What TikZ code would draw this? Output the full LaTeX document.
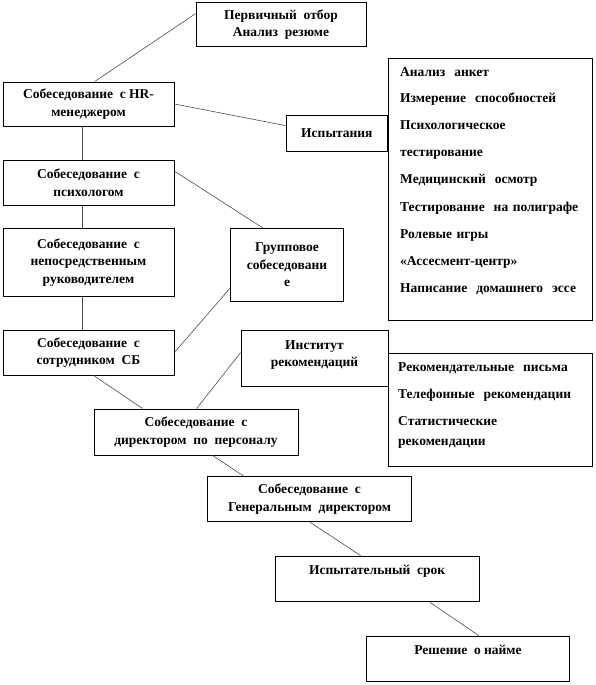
\documentclass[tikz,border=0pt]{standalone}
\usepackage{fontspec}
\setmainfont{Liberation Serif}
\usetikzlibrary{calc}
\begin{document}
\begin{tikzpicture}[x=1pt,y=-1pt,
  box/.style={draw=black, line width=0.8pt, inner sep=2pt, align=center,
    font=\bfseries\fontsize{13.5}{17.5}\selectfont},
  conn/.style={draw=black!70, line width=0.6pt},
  listtxt/.style={anchor=base west, align=left, inner sep=0pt, text width=192pt,
    font=\bfseries\fontsize{13.5}{27}\selectfont}]
\useasboundingbox (0,0) rectangle (595,685);
% boxes
\node[box, minimum width=170pt, minimum height=44pt] (n1) at (281,24.5) {Первичный\ \ отбор\\Анализ\ \ резюме};
\node[box, minimum width=171pt, minimum height=44pt] (hr) at (88.5,104) {Собеседование\ \ с HR-\\менеджером};
\node[box, minimum width=101.7pt, minimum height=36pt] (isp) at (336.85,133) {Испытания};
\node[draw=black, line width=0.8pt, minimum width=204.5pt, minimum height=262pt] (list1) at (490.25,189) {};
\node[listtxt] (l1t) at (400,76) {Анализ\ \ анкет\\Измерение\ \ способностей\\Психологическое\\тестирование\\Медицинский\ \ осмотр\\Тестирование\ \ на полиграфе\\Ролевые игры\\«Ассесмент-центр»\\Написание\ \ домашнего\ \ эссе};
\node[box, minimum width=171pt, minimum height=45.5pt] (psy) at (88.5,182.75) {Собеседование\ \ с\\психологом};
\node[box, minimum width=171pt, minimum height=68.7pt] (nep) at (88.5,262.35) {Собеседование\ \ с\\непосредственным\\руководителем};
\node[box, minimum width=113pt, minimum height=72.5pt] (grp) at (287,264.75) {Групповое\\собеседовани\\е};
\node[box, minimum width=171pt, minimum height=45pt] (sb) at (88.5,352.5) {Собеседование\ \ с\\сотрудником\ \ СБ};
\node[box, minimum width=147pt, minimum height=56pt] (inst) at (314.5,358) {Институт\\рекомендаций\\[-9pt]\mbox{}};
\node[draw=black, line width=0.8pt, minimum width=204pt, minimum height=112.7pt] (list2) at (490.3,409.65) {};
\node[listtxt] (l2t) at (398,371) {Рекомендательные\ \ письма\\Телефонные\ \ рекомендации\\Статистические\\[-7pt]рекомендации};
\node[box, minimum width=204pt, minimum height=46pt] (dir) at (196,432) {Собеседование\ \ с\\директором\ \ по\ \ персоналу};
\node[box, minimum width=204.4pt, minimum height=45pt] (gen) at (309.5,499.2) {Собеседование\ \ с\\Генеральным\ \ директором};
\node[box, minimum width=204.3pt, minimum height=45.7pt] (trial) at (377.15,578.85) {Испытательный\ \ срок\\\mbox{}};
\node[box, minimum width=202.6pt, minimum height=45.7pt] (dec) at (468,658.85) {Решение\ \ о найме\\\mbox{}};
% connectors
\draw[conn] ($(hr.north west)+(92,0)$) -- ($(n1.north west)+(0,11.5)$);
\draw[conn] (hr.east) -- ($(isp.north west)+(0,11)$);
\draw[conn] ($(hr.south west)+(80,0)$) -- ($(psy.north west)+(80,0)$);
\draw[conn] ($(psy.south west)+(80,0)$) -- ($(nep.north west)+(80,0)$);
\draw[conn] ($(nep.south west)+(80,0)$) -- ($(sb.north west)+(80,0)$);
\draw[conn] ($(psy.north east)+(0,11.5)$) -- ($(grp.north west)+(33,0)$);
\draw[conn] (sb.east) -- ($(grp.north west)+(0,60)$);
\draw[conn] ($(sb.south west)+(91,0)$) -- ($(dir.north west)+(49,0)$);
\draw[conn] ($(inst.north west)+(0,23)$) -- ($(dir.north west)+(103,0)$);
\draw[conn] ($(dir.south west)+(119,0)$) -- ($(gen.north west)+(37,0)$);
\draw[conn] ($(gen.south west)+(103,0)$) -- ($(trial.north west)+(86,0)$);
\draw[conn] ($(trial.south west)+(155,0)$) -- ($(dec.north west)+(112.5,0)$);
\end{tikzpicture}
\end{document}
